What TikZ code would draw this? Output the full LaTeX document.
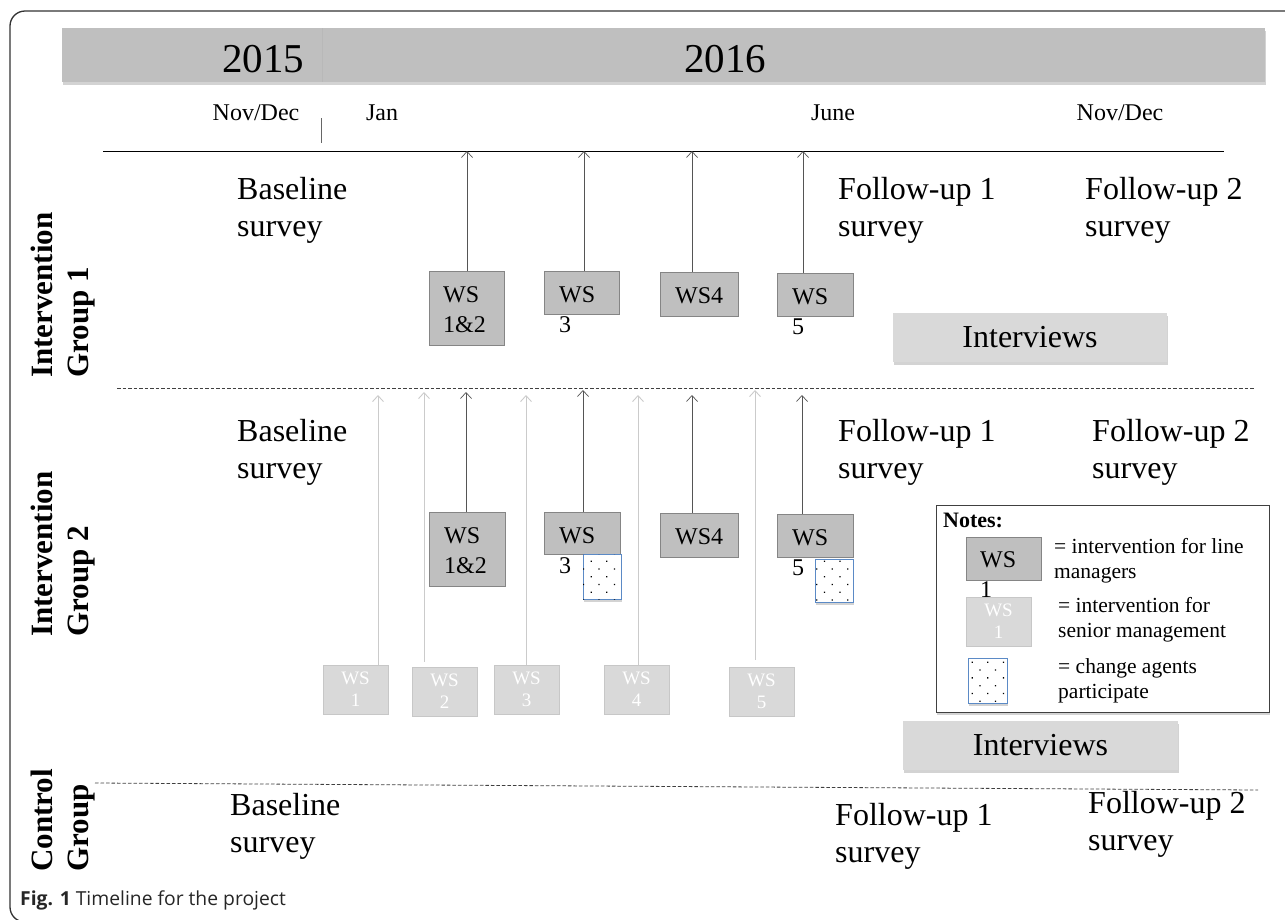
\documentclass[tikz,border=0pt]{standalone}
\usepackage{fontspec}
\setmainfont{Liberation Serif}
\newfontfamily\capfont{Open Sans}
\usetikzlibrary{shadows,patterns.meta,arrows.meta,calc}

\definecolor{wsdark}{HTML}{BFBFBF}
\definecolor{wsedge}{HTML}{858585}
\definecolor{wslight}{HTML}{D9D9D9}
\definecolor{agentblue}{HTML}{5B8AC6}
\definecolor{arrowdark}{HTML}{555555}
\definecolor{arrowlight}{HTML}{CBCBCB}

\tikzset{
  softshadow/.style={drop shadow={shadow xshift=1pt,shadow yshift=-2.5pt,opacity=.35}},
  wsbox/.style={draw=wsedge,fill=wsdark,line width=1pt},
  senbox/.style={draw=black!22,fill=wslight,line width=1pt,text=white,align=center,
    font=\fontsize{19}{22}\selectfont},
  agentbox/.style={draw=agentblue,line width=1pt,fill=white,softshadow,
    postaction={pattern={Dots[distance=11pt,radius=.9pt,angle=45]}}},
  ivbox/.style={fill=wslight,softshadow,font=\fontsize{32}{37}\selectfont},
  wstext/.style={font=\fontsize{24}{30}\selectfont,align=left,anchor=base west},
  survey/.style={font=\fontsize{32}{37}\selectfont,align=left,anchor=base west},
  month/.style={font=\fontsize{24}{28}\selectfont,anchor=base},
  grouplabel/.style={font=\fontsize{31}{36}\selectfont\bfseries,align=left,rotate=90,anchor=base west},
  notetext/.style={font=\fontsize{21.5}{25.5}\selectfont,align=left,anchor=base west},
  darkarrow/.style={draw=arrowdark,line width=.7pt,-{Straight Barb[length=6pt,width=11pt]}},
  lightarrow/.style={draw=arrowlight,line width=.9pt,-{Straight Barb[length=6pt,width=11pt]}},
  sepline/.style={black!75,line width=.8pt,dash pattern=on 3.5pt off 2pt}
}

\begin{document}
\begin{tikzpicture}[x=1pt,y=-1pt,every node/.style={inner sep=0pt}]
\clip (0,0) rectangle (1285,919);
\draw[black!80,line width=1.3pt,rounded corners=15pt] (10,11) rectangle (1320,922);

\fill[wsdark,softshadow] (62,28) rectangle (1265,82);
\draw[black!28,line width=.8pt] (322,28) -- (322,82);
\node[anchor=base,font=\fontsize{41}{46}\selectfont] (y15) at (263,72) {2015};
\node[anchor=base,font=\fontsize{41}{46}\selectfont] (y16) at (725,72) {2016};

\node[month] (m1) at (256,120) {Nov/Dec};
\node[month] (m2) at (382,120) {Jan};
\node[month] (m3) at (833,120) {June};
\node[month] (m4) at (1120,120) {Nov/Dec};
\draw[black!60,line width=1pt] (321,118) -- (321,143);
\draw[black,line width=1pt] (103,151) -- (1224,151);
\draw[sepline] (117,388) -- (1255,388);
\draw[sepline] (95,783) -- (1258,790);

\node[grouplabel] (lab1) at (88,378) {Intervention\\Group 1};
\node[grouplabel] (lab2) at (88,637) {Intervention\\Group 2};
\node[grouplabel] (lab3) at (88,872) {Control\\Group};

\node[survey] (b1) at (237,236) {Baseline\\survey};
\node[survey] (f11) at (838,236) {Follow-up 1\\survey};
\node[survey] (f21) at (1085,236) {Follow-up 2\\survey};
\node[survey] (b2) at (237,478) {Baseline\\survey};
\node[survey] (f12) at (838,478) {Follow-up 1\\survey};
\node[survey] (f22) at (1092,478) {Follow-up 2\\survey};
\node[survey] (b3) at (230,852) {Baseline\\survey};
\node[survey] (f13) at (835,862) {Follow-up 1\\survey};
\node[survey] (f23) at (1088,850) {Follow-up 2\\survey};

\node[wsbox,minimum width=75,minimum height=74] (g1a) at (466.5,308) {};
\node[wsbox,minimum width=75,minimum height=43] (g1b) at (581.5,292.5) {};
\node[wsbox,minimum width=78,minimum height=44] (g1c) at (699,294) {};
\node[wsbox,minimum width=76,minimum height=43] (g1d) at (815,294.5) {};
\node[wstext] at (443,332) {WS\\1\&2};
\node[wstext] at (559,332) {WS\\3};
\node[wstext] at (675,303) {WS4};
\node[wstext] at (792,334) {WS\\5};
\foreach \b/\x/\t in {g1a/467/h1a,g1b/584/h1b,g1c/692/h1c,g1d/803/h1d}{
  \coordinate (\t) at (\x,151);
  \draw[darkarrow] (\b.north -| \t) -- (\t);
}
\node[ivbox,minimum width=274,minimum height=49] (iv1) at (1030,337.5) {Interviews};

\node[wsbox,minimum width=76,minimum height=74] (g2a) at (467,549) {};
\node[wsbox,minimum width=76,minimum height=42] (g2b) at (582,533) {};
\node[wsbox,minimum width=78,minimum height=44] (g2c) at (699,535) {};
\node[wsbox,minimum width=76,minimum height=43] (g2d) at (815,535.5) {};
\node[wstext] at (444,573) {WS\\1\&2};
\node[wstext] at (559,573) {WS\\3};
\node[wstext] at (675,544) {WS4};
\node[wstext] at (792,575) {WS\\5};
\node[agentbox,minimum width=38,minimum height=45] (ag3) at (602,576.5) {};
\node[agentbox,minimum width=38,minimum height=43] (ag5) at (834,580.5) {};
\foreach \b/\x/\y/\t in {g2a/466/392/h2a,g2b/583/390/h2b,g2c/692/395/h2c,g2d/802/395/h2d}{
  \coordinate (\t) at (\x,\y);
  \draw[darkarrow] (\b.north -| \t) -- (\t);
}

\foreach \n/\cx/\cy/\x/\y/\gap in {1/355.5/689.5/378/395/0,2/444.5/691.5/424/392/5,
    3/526.5/689.5/526/395/0,4/636.5/689.5/638/395/0,5/761.5/691.5/755/390/7}{
  \node[senbox,minimum width=65,minimum height=49] (s\n) at (\cx,\cy) {WS\\\n};
  \coordinate (hs\n) at (\x,\y);
  \draw[lightarrow] ($(s\n.north -| hs\n)+(0,-\gap)$) -- (hs\n);
}

\node[draw=black!75,fill=white,line width=1pt,softshadow,minimum width=333,minimum height=207] (notes) at (1102.5,608.5) {};
\node[anchor=base west,font=\fontsize{22}{26}\selectfont\bfseries] (notehd) at (943,527) {Notes:};
\node[wsbox,minimum width=75,minimum height=43] (kdark) at (1003.5,558.5) {};
\node[wstext] at (980,597) {WS\\1};
\node[senbox,minimum width=65,minimum height=49] (klight) at (998.5,621.5) {WS\\1};
\node[agentbox,minimum width=39,minimum height=45] (kagent) at (987.5,680.5) {};
\node[notetext] (kt1) at (1054,578.5) {= intervention for line\\managers};
\node[notetext] (kt2) at (1058,637.5) {= intervention for\\senior management};
\node[notetext] (kt3) at (1058,698.5) {= change agents\\participate};

\node[ivbox,minimum width=275,minimum height=49] (iv2) at (1040.5,745.5) {Interviews};

\node[anchor=base west,font=\capfont\fontsize{19.3}{23}\selectfont,text=black!85] (cap) at (20,905) {\textbf{Fig. 1} Timeline for the project};
\end{tikzpicture}
\end{document}
